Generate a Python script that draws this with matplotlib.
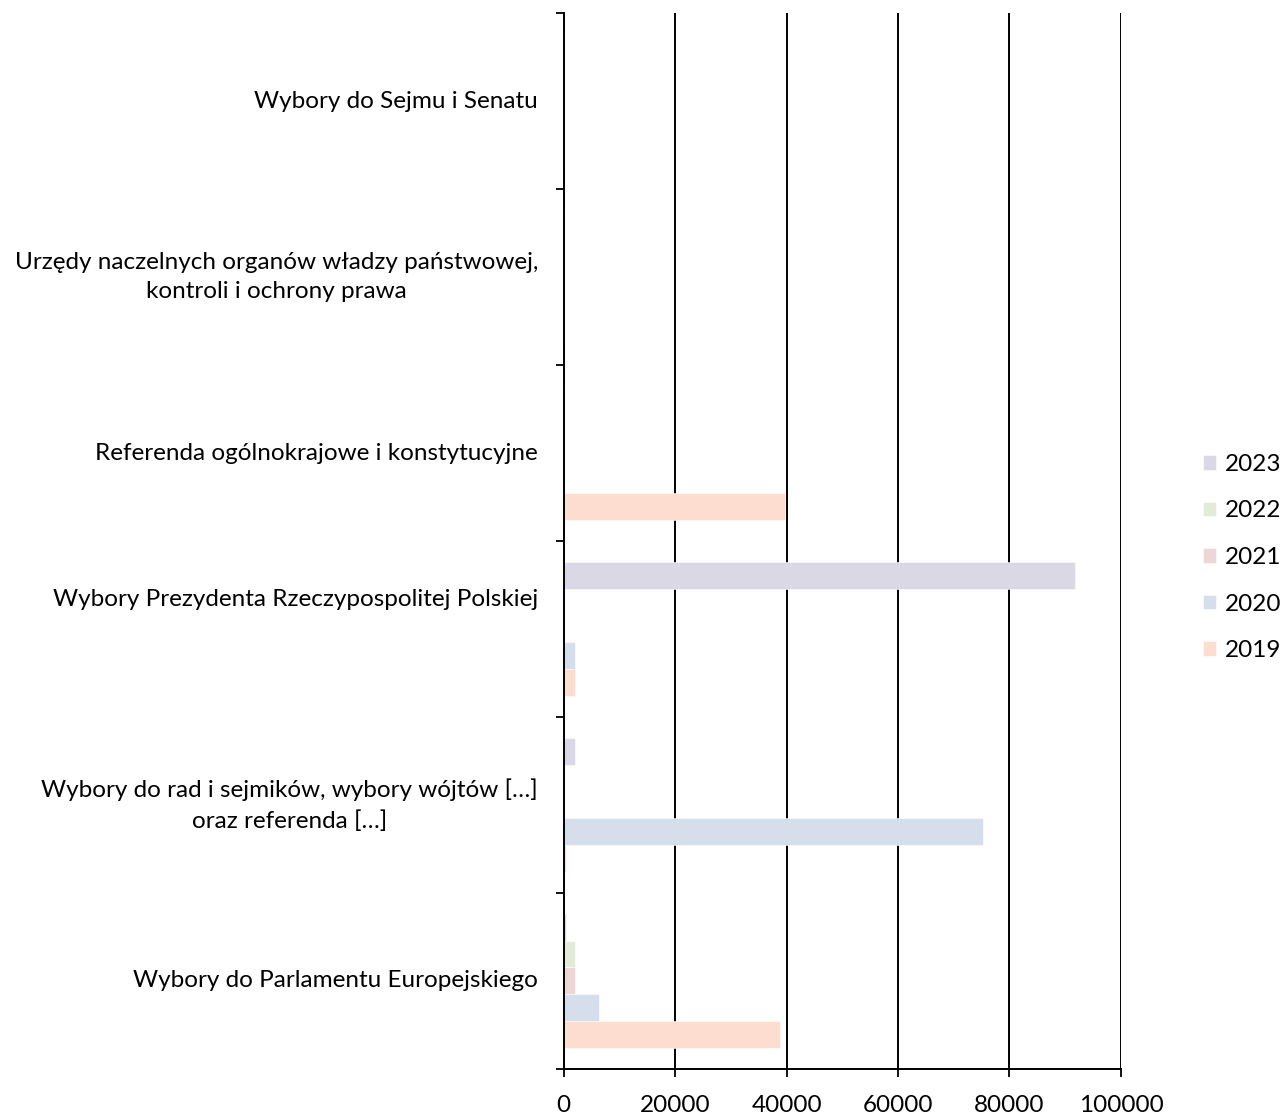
import matplotlib.pyplot as plt
from matplotlib.transforms import ScaledTranslation

plt.rcParams['font.family'] = ['Lato', 'DejaVu Sans']

categories = [
    "Wybory do Parlamentu Europejskiego",
    "Wybory do rad i sejmików, wybory wójtów […]\noraz referenda […]",
    "Wybory Prezydenta Rzeczypospolitej Polskiej",
    "Referenda ogólnokrajowe i konstytucyjne",
    "Urzędy naczelnych organów władzy państwowej,\nkontroli i ochrony prawa",
    "Wybory do Sejmu i Senatu",
]
years = ["2019", "2020", "2021", "2022", "2023"]
v2019 = [38800, 500, 2000, 39800, 0, 0]
v2020 = [6400, 75200, 2000, 0, 0, 0]
v2021 = [2000, 0, 0, 0, 0, 0]
v2022 = [2000, 0, 0, 0, 0, 0]
v2023 = [500, 2000, 91800, 0, 0, 0]
series = [v2019, v2020, v2021, v2022, v2023]
colors = ["#FCDDD0", "#D6DDEB", "#EDD6D6", "#E2EAD8", "#DBD8E6"]

fs = 17.5
fig = plt.figure(figsize=(12.82, 11.15), dpi=100)
ax = fig.add_axes([0.4396, 0.0413, 0.4348, 0.9470])

h = 0.153
bars = []
for i, (vals, c, yr) in enumerate(zip(series, colors, years)):
    ys = [k + (i - 2) * h for k in range(len(categories))]
    b = ax.barh(ys, vals, height=h, color=c, edgecolor="white", linewidth=0.4, label=yr, zorder=1)
    bars.append(b)

ax.set_xlim(0, 100000)
ax.set_ylim(-0.5, len(categories) - 0.5)
ax.set_xticks(range(0, 100001, 20000))
ax.set_xticklabels([str(t) for t in range(0, 100001, 20000)], fontsize=fs)
ax.set_yticks([k - 0.5 for k in range(len(categories) + 1)])
ax.set_yticklabels([])
ax.tick_params(axis="both", direction="out", length=6, width=1.3, color="black")
ax.tick_params(axis="x", pad=13)
ax.grid(axis="x", color="black", linewidth=1.4, zorder=0)
ax.set_axisbelow(True)
for s in ["top", "right"]:
    ax.spines[s].set_visible(False)
for s in ["left", "bottom"]:
    ax.spines[s].set_linewidth(1.4)
    ax.spines[s].set_zorder(3)

# category labels (the Prezydent label sits higher in the source)
for k, lab in enumerate(categories):
    dy = 29 / 100 if k == 2 else 0
    tr = ax.get_yaxis_transform() + ScaledTranslation(0, dy, fig.dpi_scale_trans)
    ax.text(-0.046, k, lab, transform=tr, ha="right", va="center",
            multialignment="center", fontsize=fs, linespacing=1.5)

handles = bars[::-1]
fig.legend(handles, years[::-1], loc="center left", bbox_to_anchor=(0.929, 0.5),
           frameon=False, fontsize=fs, handlelength=0.55, handleheight=0.55,
           handletextpad=0.35, labelspacing=1.05, borderpad=0)

fig.savefig("out.png", dpi=100)
